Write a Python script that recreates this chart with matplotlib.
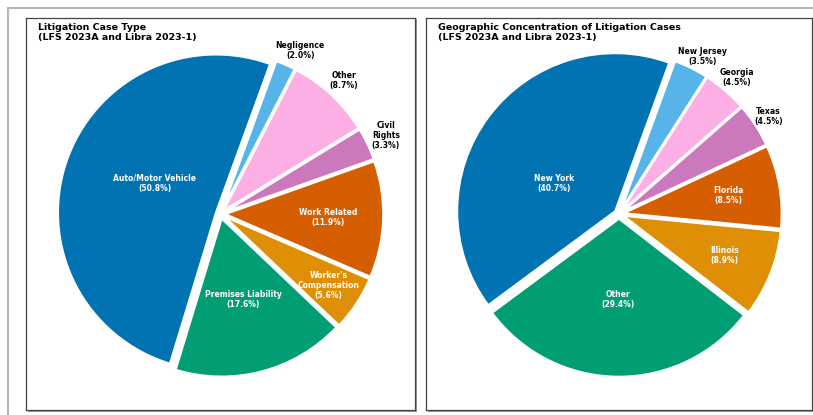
import numpy as np
import matplotlib
matplotlib.use("Agg")
import matplotlib.pyplot as plt
from matplotlib.patches import Rectangle

# data
case_labels = ["Auto/Motor Vehicle", "Premises Liability", "Worker's\nCompensation",
               "Work Related", "Civil\nRights", "Other", "Negligence"]
case_pcts = [50.8, 17.6, 5.6, 11.9, 3.3, 8.7, 2.0]

geo_labels = ["New York", "Other", "Illinois", "Florida", "Texas", "Georgia", "New Jersey"]
geo_pcts = [40.7, 29.4, 8.9, 8.5, 4.5, 4.5, 3.5]

titles = ["Litigation Case Type\n(LFS 2023A and Libra 2023-1)",
          "Geographic Concentration of Litigation Cases\n(LFS 2023A and Libra 2023-1)"]

colors = ["#0173b2", "#029e73", "#de8f05", "#d55e00", "#cc78bc", "#fbafe4", "#56b4e9"]

# label radius per wedge (>1 means outside, dark text)
case_lbl_r = [0.46, 0.56, 0.82, 0.68, 1.16, 1.15, 1.15]
geo_lbl_r = [0.45, 0.54, 0.72, 0.70, 1.13, 1.14, 1.13]
case_lbl_ang = [155, None, None, None, None, None, 64]
geo_lbl_ang = [155, None, None, None, None, None, 62]

W, H = 813, 415
fig = plt.figure(figsize=(W / 100, H / 100), dpi=100)

# outer frame (cropped)
fig.patches.append(Rectangle((8 / W, -0.2), 1.5, (H - 8) / H + 0.2, transform=fig.transFigure,
                             fill=False, edgecolor="#b8b8b8", lw=1.6, zorder=-2))

boxes = [(26, 18, 389, 392), (426, 18, 386, 392)]
R = 158.0


def draw_panel(box, labels, pcts, lbl_r, lbl_ang, title):
    x0, y0, w, h = box
    # shadow
    fig.patches.append(Rectangle(((x0 + 1.5) / W, (H - y0 - h - 1.5) / H), w / W, h / H,
                                 transform=fig.transFigure, facecolor="#9a9a9a",
                                 edgecolor="none", zorder=-1))
    ax = fig.add_axes([x0 / W, (H - y0 - h) / H, w / W, h / H])
    wedges, _ = ax.pie(pcts, colors=colors, startangle=70, counterclock=True,
                       explode=[0.03] * len(pcts), radius=1.0,
                       wedgeprops=dict(edgecolor="white", linewidth=1.5))
    for wdg, lab, p, r, a in zip(wedges, labels, pcts, lbl_r, lbl_ang):
        ang = (wdg.theta1 + wdg.theta2) / 2 if a is None else a
        x = r * np.cos(np.deg2rad(ang))
        y = r * np.sin(np.deg2rad(ang))
        col = "black" if r > 1 else "white"
        ax.text(x, y, f"{lab}\n({p:.1f}%)", ha="center", va="center",
                fontsize=5.6 if r > 1 else 5.5,
                fontweight="bold", color=col, linespacing=1.15)
    ax.set_frame_on(True)
    for s in ax.spines.values():
        s.set_edgecolor("#444444")
        s.set_linewidth(0.9)
    ax.set_facecolor("white")
    ax.set_aspect("auto")
    ax.set_xlim(-w / 2 / R, w / 2 / R)
    ax.set_ylim(-h / 2 / R, h / 2 / R)
    ax.set_xticks([])
    ax.set_yticks([])
    ax.text(0.031, 0.988, title, transform=ax.transAxes, ha="left", va="top",
            fontsize=6.8, fontweight="bold", linespacing=1.25)
    return ax


draw_panel(boxes[0], case_labels, case_pcts, case_lbl_r, case_lbl_ang, titles[0])
draw_panel(boxes[1], geo_labels, geo_pcts, geo_lbl_r, geo_lbl_ang, titles[1])

fig.savefig("out.png", dpi=100, facecolor="white")
